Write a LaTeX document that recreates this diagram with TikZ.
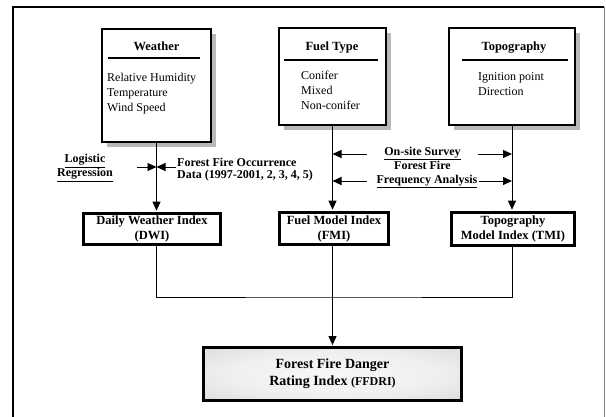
\documentclass[tikz,border=0pt]{standalone}
\usepackage{fontspec}
\setmainfont{Liberation Serif}
\usepackage{tikz}
\usetikzlibrary{arrows.meta, positioning, calc}
\pgfdeclareradialshading{ffdrishade}{\pgfpoint{0bp}{0bp}}{color(0bp)=(gray!6); color(20bp)=(gray!12); color(50bp)=(gray!40)}

\begin{document}
\begin{tikzpicture}[x=1pt, y=-1pt, >={Triangle[length=9pt,width=8pt]},
  topbox/.style={draw, line width=2.8pt, fill=white, inner sep=0pt},
  boxshadow/.style={fill=gray!55, inner sep=0pt},
  indexbox/.style={draw, line width=2.8pt, fill=white, align=center, inner sep=0pt,
    font=\bfseries\fontsize{12.5}{15}\selectfont},
  headtext/.style={font=\bfseries\fontsize{12.5}{15}\selectfont, anchor=base, inner sep=0pt},
  listtext/.style={font=\fontsize{12}{15}\selectfont, align=left, anchor=north west, inner sep=0pt},
  labeltext/.style={font=\bfseries\fontsize{12}{12.5}\selectfont, inner sep=1pt},
  flow/.style={line width=0.9pt}]
  \useasboundingbox (0,0) rectangle (606,417);
  % Frame
  \draw[line width=1.6pt] (13,425) -- (13,7) -- (604,7);
  \draw[gray, line width=0.8pt] (604,7) -- (604,425);
  % Shadows
  \node[boxshadow, minimum width=109pt, minimum height=113pt] (weathershadow) at (161.5,90.5) {};
  \node[boxshadow, minimum width=107pt, minimum height=97pt] (fuelshadow) at (337.5,81.5) {};
  \node[boxshadow, minimum width=126pt, minimum height=97pt] (toposhadow) at (517,81.5) {};
  % Input boxes
  \node[topbox, minimum width=109pt, minimum height=113pt] (weather) at (156.5,85.5) {};
  \node[topbox, minimum width=107pt, minimum height=97pt] (fuel) at (332.5,76.5) {};
  \node[topbox, minimum width=126pt, minimum height=97pt] (topo) at (512,76.5) {};
  \node[headtext] (weatherhead) at (156.5,51) {Weather};
  \node[headtext] (fuelhead) at (332,51) {Fuel Type};
  \node[headtext] (topohead) at (514,51) {Topography};
  \draw[line width=2pt] (107.5,58) -- (200,58);
  \draw[line width=2pt] (284,60) -- (377.5,60);
  \draw[line width=2pt] (462,60) -- (568,60);
  \node[listtext] (weatherlist) at (107,72.5) {Relative Humidity\\Temperature\\Wind Speed};
  \node[listtext] (fuellist) at (301,71) {Conifer\\Mixed\\Non-conifer};
  \node[listtext] (topolist) at (478,72.5) {Ignition point\\Direction};
  % Index boxes
  \node[indexbox, minimum width=137pt, minimum height=31pt] (dwi) at (152,229) {Daily Weather Index\\(DWI)};
  \node[indexbox, minimum width=109pt, minimum height=32pt] (fmi) at (334,228.5) {Fuel Model Index\\(FMI)};
  \node[indexbox, minimum width=123pt, minimum height=33pt] (tmi) at (513,229) {Topography\\Model Index (TMI)};
  \node[draw, line width=2.4pt, shading=ffdrishade, minimum width=258pt, minimum height=53pt,
    align=center, inner sep=0pt, font=\bfseries\fontsize{14}{17}\selectfont]
    (ffdri) at (332.5,374) {Forest Fire Danger\\Rating Index {\fontsize{12}{17}\selectfont(FFDRI)}};
  % Vertical flows
  \draw[flow, ->, shorten >=1.4pt] (weather.south) -- (weather.south |- dwi.north);
  \draw[flow, ->, shorten >=1.4pt] (fuel.south) -- (fuel.south |- fmi.north);
  \draw[flow, ->, shorten >=1.4pt] (topo.south) -- (topo.south |- tmi.north);
  \coordinate (join) at (333,297);
  \draw[flow] (weather.south |- dwi.south) |- (join) -| (topo.south |- tmi.south);
  \draw[flow, ->, shorten >=1.2pt] (fuel.south |- fmi.south) -- (fuel.south |- ffdri.north);
  % Side labels
  \node[labeltext, align=center] (logit) at (85,168) {\underline{Logistic}\\\underline{Regression}};
  \node[labeltext, align=left, anchor=west] (occur) at (176,169.5) {Forest Fire Occurrence\\Data (1997-2001, 2, 3, 4, 5)};
  \node[labeltext, align=center] (survey) at (422.5,158.5) {\underline{On-site Survey}\\Forest Fire};
  \node[labeltext] (freq) at (427,181.5) {\underline{Frequency Analysis}};
  % Side arrows
  \coordinate (occl) at (137,167);
  \draw[flow, ->] (occl) -- (occl -| weather.south);
  \draw[flow, ->] (occur.west |- occl) -- (occl -| weather.south);
  \coordinate (svl) at (367,154);
  \coordinate (svr) at (478,154);
  \coordinate (fql) at (367,181);
  \draw[flow, ->] (svl) -- (svl -| fuel.south);
  \draw[flow, ->] (svr) -- (svr -| topo.south);
  \draw[flow, ->] (fql) -- (fql -| fuel.south);
  \draw[flow, ->] (freq.east |- fql) -- (fql -| topo.south);
\end{tikzpicture}
\end{document}
